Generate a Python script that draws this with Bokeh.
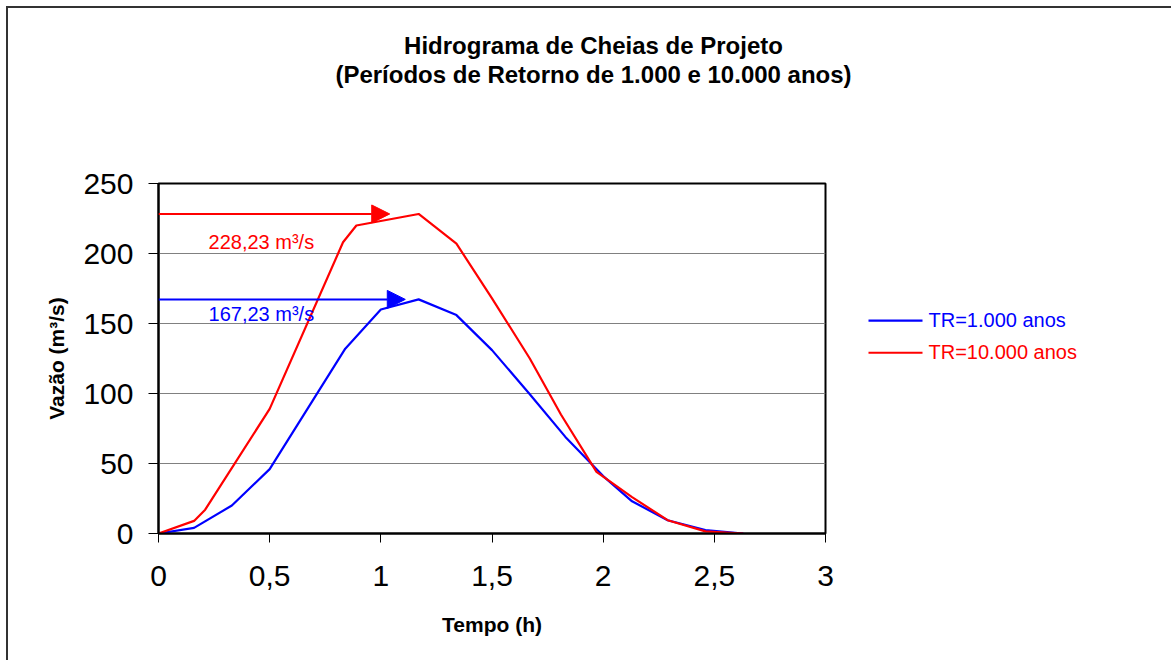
from bokeh.plotting import figure
from bokeh.layouts import column, row
from bokeh.models import (Range1d, Label, Arrow, NormalHead,
                          CustomJSTickFormatter, SingleIntervalTicker)
from bokeh.core.properties import value
from bokeh.embed import file_html
from bokeh.resources import INLINE

# ---- data ----
t_tr1000 = [0, 0.16, 0.33, 0.50, 0.67, 0.84, 1.00, 1.17, 1.34, 1.50, 1.67, 1.83, 2.00, 2.13, 2.29, 2.46, 2.63]
q_tr1000 = [0, 4, 20, 46, 89, 132, 160, 167.23, 156, 131, 99.5, 69, 41, 23, 9.5, 2.4, 0]

t_tr10000 = [0, 0.16, 0.21, 0.50, 0.83, 0.89, 1.17, 1.34, 1.50, 1.67, 1.81, 1.97, 2.13, 2.29, 2.46, 2.63]
q_tr10000 = [0, 9, 17, 89, 208, 220, 228.23, 207, 168, 125, 85, 44, 26, 9.5, 1.5, 0]

peak_tr1000 = 167.23
peak_tr10000 = 228.23
peak_labels = ["167,23 m³/s", "228,23 m³/s"]
series_names = ["TR=1.000 anos", "TR=10.000 anos"]
title_lines = ["Hidrograma de Cheias de Projeto",
               "(Períodos de Retorno de 1.000 e 10.000 anos)"]
x_label = "Tempo (h)"
y_label = "Vazão (m³/s)"

BLUE = "#0000FF"
RED = "#FF0000"
FONT = "Liberation Sans"

TOTAL_W = 1163
TOP_H = 100
FRAME_W, FRAME_H = 667, 350
LEFT, RIGHT_PAD, TOP, BOTTOM = 150, 20, 75, 127


def bare(fig):
    fig.background_fill_color = "white"
    fig.border_fill_color = "white"
    fig.outline_line_color = None
    fig.grid.grid_line_color = None
    return fig


# ---- title strip ----
top = bare(figure(width=TOTAL_W, height=TOP_H, min_border=0,
                  x_range=Range1d(0, TOTAL_W), y_range=Range1d(TOP_H, 0),
                  x_axis_location=None, y_axis_location=None,
                  output_backend="svg", toolbar_location=None))
top.text(x=[585, 585], y=[37.2, 66.1], text=title_lines,
         text_align="center", text_baseline="alphabetic",
         text_font=value(FONT), text_font_style="bold", text_font_size="24px",
         text_color="black")

# ---- main chart ----
p = figure(frame_width=FRAME_W, frame_height=FRAME_H,
           min_border_left=LEFT, min_border_right=RIGHT_PAD,
           min_border_top=TOP, min_border_bottom=BOTTOM,
           x_range=Range1d(0, 3), y_range=Range1d(0, 250),
           output_backend="svg", toolbar_location=None)

p.background_fill_color = "white"
p.border_fill_color = "white"
p.outline_line_color = "black"
p.outline_line_width = 2

p.xgrid.grid_line_color = None
p.ygrid.grid_line_color = "#808080"
p.ygrid.grid_line_width = 1

p.xaxis.ticker = SingleIntervalTicker(interval=0.5, num_minor_ticks=0)
p.yaxis.ticker = SingleIntervalTicker(interval=50, num_minor_ticks=0)
p.xaxis.formatter = CustomJSTickFormatter(code="return tick.toString().replace('.', ',');")

for ax in (p.xaxis[0], p.yaxis[0]):
    ax.axis_line_color = "black"
    ax.axis_line_width = 2
    ax.major_tick_in = 0
    ax.major_tick_line_color = "black"
    ax.major_tick_line_width = 1
    ax.minor_tick_line_color = None
    ax.major_label_text_font = FONT
    ax.major_label_text_font_size = "30px"
    ax.major_label_text_color = "black"
    ax.axis_label_text_font = FONT
    ax.axis_label_text_font_style = "bold"
    ax.axis_label_text_font_size = "21px"
    ax.axis_label_text_color = "black"

p.xaxis.major_tick_out = 9
p.yaxis.major_tick_out = 10
p.xaxis.major_label_standoff = 23
p.yaxis.major_label_standoff = 15
p.xaxis.axis_label = x_label
p.yaxis.axis_label = y_label
p.xaxis.axis_label_standoff = 24
p.yaxis.axis_label_standoff = 12

p.line(t_tr1000, q_tr1000, line_color=BLUE, line_width=2.2)
p.line(t_tr10000, q_tr10000, line_color=RED, line_width=2.2)

# peak arrows
p.add_layout(Arrow(x_start=0, y_start=peak_tr10000, x_end=1.04, y_end=peak_tr10000,
                   line_color=RED, line_width=2,
                   end=NormalHead(size=18, fill_color=RED, line_color=RED)))
p.add_layout(Arrow(x_start=0, y_start=peak_tr1000, x_end=1.11, y_end=peak_tr1000,
                   line_color=BLUE, line_width=2,
                   end=NormalHead(size=18, fill_color=BLUE, line_color=BLUE)))

p.add_layout(Label(x=0.225, y=208.3, text=peak_labels[1], text_color=RED,
                   text_font=FONT, text_font_size="20px", text_baseline="alphabetic"))
p.add_layout(Label(x=0.225, y=156.6, text=peak_labels[0], text_color=BLUE,
                   text_font=FONT, text_font_size="20px", text_baseline="alphabetic"))

# ---- legend strip (same vertical scale as the chart) ----
leg_w = TOTAL_W - (LEFT + FRAME_W + RIGHT_PAD)
q = bare(figure(frame_width=leg_w, frame_height=FRAME_H,
                min_border_left=0, min_border_right=0,
                min_border_top=TOP, min_border_bottom=BOTTOM,
                x_range=Range1d(0, leg_w), y_range=Range1d(0, 250),
                x_axis_location=None, y_axis_location=None,
                output_backend="svg", toolbar_location=None))
legend_cols = [BLUE, RED]
legend_line_y = [152.1, 129.1]
legend_text_y = [152.4, 129.6]
for name, col, ly, ty in zip(series_names, legend_cols, legend_line_y, legend_text_y):
    q.line([23, 77], [ly, ly], line_color=col, line_width=2.2)
    q.text(x=[83], y=[ty], text=[name], text_color=col, text_baseline="alphabetic",
           text_font=value(FONT), text_font_size="20px")

layout = column(top, row(p, q, spacing=0), spacing=0)
layout.styles = {"border-left": "2px solid #333333", "border-top": "2px solid #333333",
                 "margin-left": "6px", "margin-top": "6px"}

open("out.html", "w").write(file_html(layout, INLINE))
